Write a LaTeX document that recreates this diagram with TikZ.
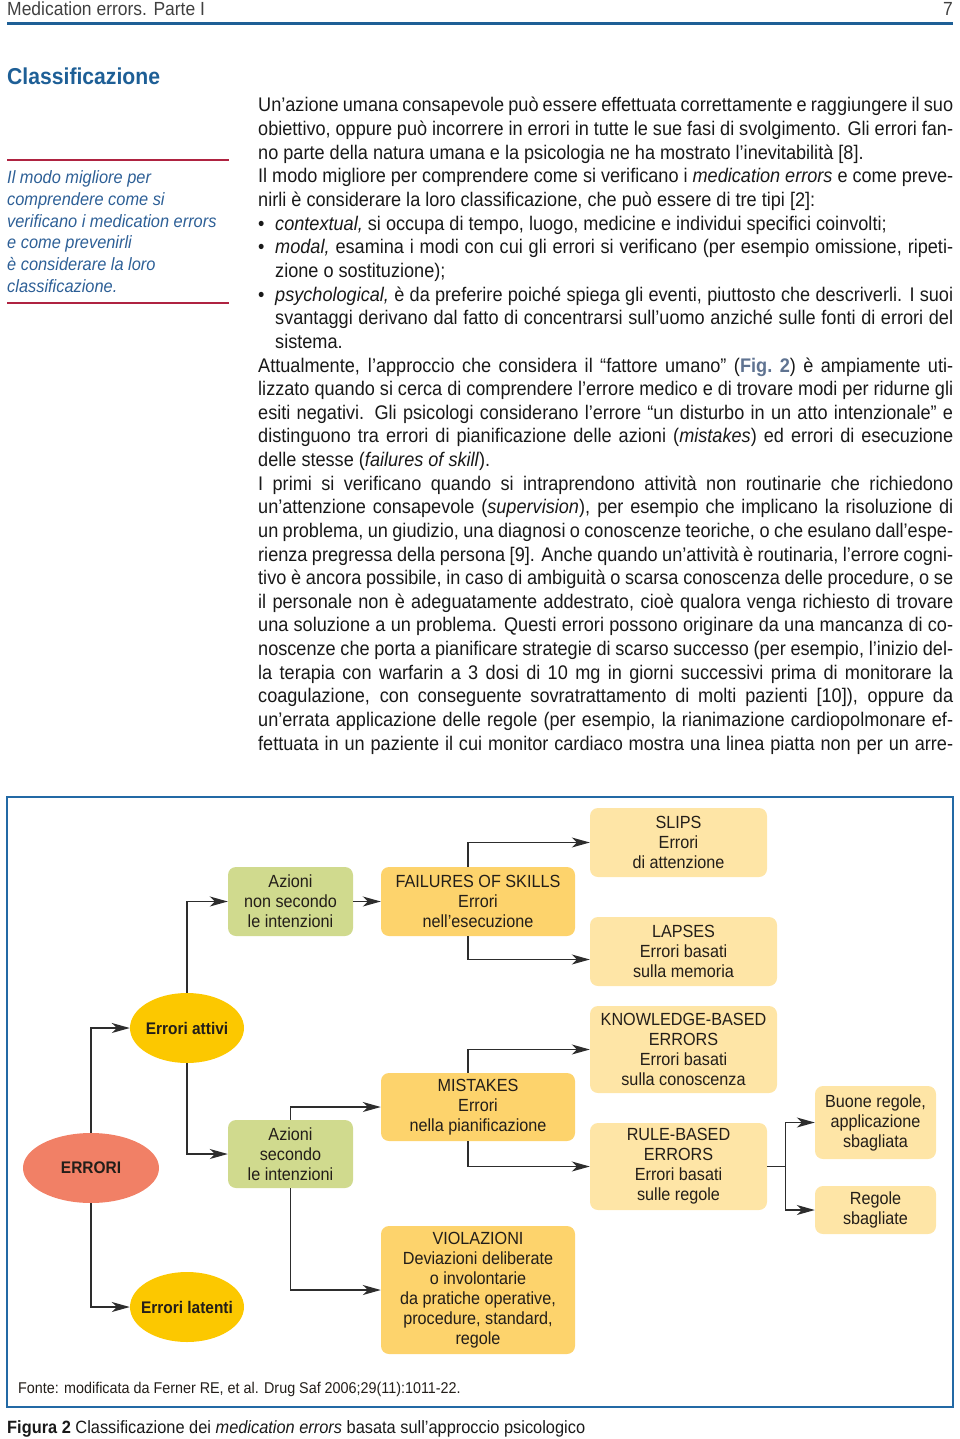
\documentclass[tikz,border=0pt]{standalone}
\usepackage{fontspec}
\setmainfont[FakeStretch=0.92]{Liberation Sans}
\usetikzlibrary{shapes.geometric,arrows.meta}
\definecolor{hdrblue}{RGB}{30,95,150}
\definecolor{figblue}{RGB}{35,105,165}
\definecolor{sideblue}{RGB}{45,95,150}
\definecolor{sidered}{RGB}{175,35,65}
\definecolor{figref}{RGB}{95,115,145}
\definecolor{salmon}{RGB}{241,128,102}
\definecolor{gold}{RGB}{252,200,0}
\definecolor{sage}{RGB}{208,218,142}
\definecolor{orangebox}{RGB}{253,211,108}
\definecolor{lightbox}{RGB}{254,229,166}
\definecolor{ink}{RGB}{35,30,25}
\definecolor{wire}{RGB}{45,45,45}
\definecolor{bodyink}{RGB}{25,25,25}
\newcommand{\bodyfont}{\fontsize{19.7}{23}\selectfont}
\newcommand{\boxfont}{\fontsize{17.6}{20}\selectfont}
\newcommand{\ovaltext}[1]{\makebox[40pt]{#1}}
\begin{document}
\begin{tikzpicture}[x=1pt,y=-1pt,
  bl/.style={anchor=base west,inner sep=0,font=\bodyfont,text=bodyink},
  sidel/.style={anchor=base west,inner sep=0,font=\fontsize{17.8}{20}\selectfont\itshape,text=sideblue},
  ebox/.style={rectangle,rounded corners=8pt,align=center,inner sep=0,font=\boxfont,text=ink},
  oval/.style={ellipse,inner sep=0,font=\fontsize{16.8}{20}\selectfont\bfseries,text=ink},
  conn/.style={draw=wire,line width=1.4pt,-{Stealth[length=18pt,width=10pt,inset=5pt]}},
  wireline/.style={draw=wire,line width=1.4pt}]
\useasboundingbox (0,0) rectangle (960,1439);
% header
\node[anchor=base west,inner sep=0,font=\fontsize{19}{22}\selectfont,text=black!75] (hdr) at (7,16) {Medication errors. Parte I};
\node[anchor=base east,inner sep=0,font=\fontsize{19}{22}\selectfont,text=black!75] (pg) at (953,16) {7};
\draw[hdrblue,line width=3pt] (7,23.5) -- (953,23.5);
% heading
\node[anchor=base west,inner sep=0,font=\fontsize{23}{28}\selectfont\bfseries,text=hdrblue] (head) at (7,85) {Classificazione};
% sidebar
\draw[sidered,line width=2.5pt] (7,160) -- (229,160);
\draw[sidered,line width=2.5pt] (7,303) -- (229,303);
\node[sidel] (s1) at (7,184) {Il modo migliore per};
\node[sidel] (s2) at (7,205.6) {comprendere come si};
\node[sidel] (s3) at (7,227.2) {verificano i medication errors};
\node[sidel] (s4) at (7,248.8) {e come prevenirli};
\node[sidel] (s5) at (7,270.4) {è considerare la loro};
\node[sidel] (s6) at (7,292) {classificazione.};
% body text
\node[bl] (l1) at (258,112) {\makebox[695pt][s]{Un’azione umana consapevole può essere effettuata correttamente e raggiungere il suo}};
\node[bl] (l2) at (258,135.6) {\makebox[695pt][s]{obiettivo, oppure può incorrere in errori in tutte le sue fasi di svolgimento. Gli errori fan-}};
\node[bl] (l3) at (258,159.3) {no parte della natura umana e la psicologia ne ha mostrato l’inevitabilità [8].};
\node[bl] (l4) at (258,182.9) {\makebox[695pt][s]{Il modo migliore per comprendere come si verificano i \textit{medication errors} e come preve-}};
\node[bl] (l5) at (258,206.5) {nirli è considerare la loro classificazione, che può essere di tre tipi [2]:};
\node[bl] (b1) at (258,230.2) {•};
\node[bl] (l6) at (275,230.2) {\textit{contextual,} si occupa di tempo, luogo, medicine e individui specifici coinvolti;};
\node[bl] (b2) at (258,253.8) {•};
\node[bl] (l7) at (275,253.8) {\makebox[678pt][s]{\textit{modal,} esamina i modi con cui gli errori si verificano (per esempio omissione, ripeti-}};
\node[bl] (l8) at (275,277.4) {zione o sostituzione);};
\node[bl] (b3) at (258,301.1) {•};
\node[bl] (l9) at (275,301.1) {\makebox[678pt][s]{\textit{psychological,} è da preferire poiché spiega gli eventi, piuttosto che descriverli. I suoi}};
\node[bl] (l10) at (275,324.7) {\makebox[678pt][s]{svantaggi derivano dal fatto di concentrarsi sull’uomo anziché sulle fonti di errori del}};
\node[bl] (l11) at (275,348.3) {sistema.};
\node[bl] (l12) at (258,372) {\makebox[695pt][s]{Attualmente, l’approccio che considera il “fattore umano” ({\color{figref}\bfseries Fig.~2}) è ampiamente uti-}};
\node[bl] (l13) at (258,395.6) {\makebox[695pt][s]{lizzato quando si cerca di comprendere l’errore medico e di trovare modi per ridurne gli}};
\node[bl] (l14) at (258,419.2) {\makebox[695pt][s]{esiti negativi. Gli psicologi considerano l’errore “un disturbo in un atto intenzionale” e}};
\node[bl] (l15) at (258,442.9) {\makebox[695pt][s]{distinguono tra errori di pianificazione delle azioni (\textit{mistakes}) ed errori di esecuzione}};
\node[bl] (l16) at (258,466.5) {delle stesse (\textit{failures of skill}).};
\node[bl] (l17) at (258,490.1) {\makebox[695pt][s]{I primi si verificano quando si intraprendono attività non routinarie che richiedono}};
\node[bl] (l18) at (258,513.8) {\makebox[695pt][s]{un’attenzione consapevole (\textit{supervision}), per esempio che implicano la risoluzione di}};
\node[bl] (l19) at (258,537.4) {\makebox[695pt][s]{un problema, un giudizio, una diagnosi o conoscenze teoriche, o che esulano dall’espe-}};
\node[bl] (l20) at (258,561) {\makebox[695pt][s]{rienza pregressa della persona [9]. Anche quando un’attività è routinaria, l’errore cogni-}};
\node[bl] (l21) at (258,584.7) {\makebox[695pt][s]{tivo è ancora possibile, in caso di ambiguità o scarsa conoscenza delle procedure, o se}};
\node[bl] (l22) at (258,608.3) {\makebox[695pt][s]{il personale non è adeguatamente addestrato, cioè qualora venga richiesto di trovare}};
\node[bl] (l23) at (258,631.9) {\makebox[695pt][s]{una soluzione a un problema. Questi errori possono originare da una mancanza di co-}};
\node[bl] (l24) at (258,655.6) {\makebox[695pt][s]{noscenze che porta a pianificare strategie di scarso successo (per esempio, l’inizio del-}};
\node[bl] (l25) at (258,679.2) {\makebox[695pt][s]{la terapia con warfarin a 3 dosi di 10 mg in giorni successivi prima di monitorare la}};
\node[bl] (l26) at (258,702.8) {\makebox[695pt][s]{coagulazione, con conseguente sovratrattamento di molti pazienti [10]), oppure da}};
\node[bl] (l27) at (258,726.5) {\makebox[695pt][s]{un’errata applicazione delle regole (per esempio, la rianimazione cardiopolmonare ef-}};
\node[bl] (l28) at (258,750.1) {\makebox[695pt][s]{fettuata in un paziente il cui monitor cardiaco mostra una linea piatta non per un arre-}};
% figure frame
\draw[figblue,line width=2.6pt] (7,797) rectangle (953,1407);
% nodes
\node[oval,fill=salmon,minimum width=136pt,minimum height=70pt] (errori) at (91,1168) {\ovaltext{ERRORI}};
\node[oval,fill=gold,minimum width=114pt,minimum height=70pt] (attivi) at (187,1028) {\ovaltext{Errori attivi}};
\node[oval,fill=gold,minimum width=114pt,minimum height=70pt] (latenti) at (187,1307) {\ovaltext{Errori latenti}};
\node[ebox,fill=sage,minimum width=125pt,minimum height=69pt] (nonsec) at (290.5,901.5) {Azioni\\non secondo\\le intenzioni};
\node[ebox,fill=sage,minimum width=125pt,minimum height=68pt] (sec) at (290.5,1154) {Azioni\\secondo\\le intenzioni};
\node[ebox,fill=orangebox,minimum width=194pt,minimum height=69pt] (fail) at (478,901.5) {FAILURES OF SKILLS\\Errori\\nell’esecuzione};
\node[ebox,fill=orangebox,minimum width=194pt,minimum height=68pt] (mist) at (478,1107) {MISTAKES\\Errori\\nella pianificazione};
\node[ebox,fill=orangebox,minimum width=194pt,minimum height=128pt] (viol) at (478,1290) {VIOLAZIONI\\Deviazioni deliberate\\o involontarie\\da pratiche operative,\\procedure, standard,\\regole};
\node[ebox,fill=lightbox,minimum width=177pt,minimum height=69pt] (slips) at (678.5,842.5) {SLIPS\\Errori\\di attenzione};
\node[ebox,fill=lightbox,minimum width=187pt,minimum height=69pt] (lapses) at (683.5,951.5) {LAPSES\\Errori basati\\sulla memoria};
\node[ebox,fill=lightbox,minimum width=187pt,minimum height=87pt] (know) at (683.5,1049.5) {KNOWLEDGE-BASED\\ERRORS\\Errori basati\\sulla conoscenza};
\node[ebox,fill=lightbox,minimum width=177pt,minimum height=87pt] (rule) at (678.5,1166.5) {RULE-BASED\\ERRORS\\Errori basati\\sulle regole};
\node[ebox,fill=lightbox,minimum width=121pt,minimum height=73pt] (buone) at (875.5,1122.5) {Buone regole,\\applicazione\\sbagliata};
\node[ebox,fill=lightbox,minimum width=121pt,minimum height=48pt] (regole) at (875.5,1210) {Regole\\sbagliate};
% connectors
\draw[conn] (errori.north) |- (attivi.west);
\draw[conn] (errori.south) |- (latenti.west);
\draw[conn] (attivi.north) |- (nonsec.west);
\draw[conn] (attivi.south) |- (sec.west);
\draw[conn] (nonsec.east) -- (fail.west);
\draw[conn] ([xshift=-10pt]fail.north) |- (slips.west);
\draw[conn] ([xshift=-10pt]fail.south) |- ([yshift=-8pt]lapses.west);
\draw[conn] (sec.north) |- (mist.west);
\draw[conn] (sec.south) |- (viol.west);
\draw[conn] ([xshift=-10pt]mist.north) |- (know.west);
\draw[conn] ([xshift=-10pt]mist.south) |- (rule.west);
\coordinate (rb) at ([xshift=18pt]rule.east);
\draw[wireline] (rule.east) -- (rb);
\draw[conn] (rb) |- (buone.west);
\draw[conn] (rb) |- (regole.west);
% source and caption
\node[anchor=base west,inner sep=0,font=\fontsize{15.6}{20}\selectfont,text=ink] (fonte) at (18,1393) {Fonte: modificata da Ferner RE, et al. Drug Saf 2006;29(11):1011-22.};
\node[anchor=base west,inner sep=0,font=\fontsize{17.8}{20}\selectfont,text=bodyink] (cap) at (7,1433) {\textbf{Figura 2} Classificazione dei \textit{medication errors} basata sull’approccio psicologico};
\end{tikzpicture}
\end{document}
